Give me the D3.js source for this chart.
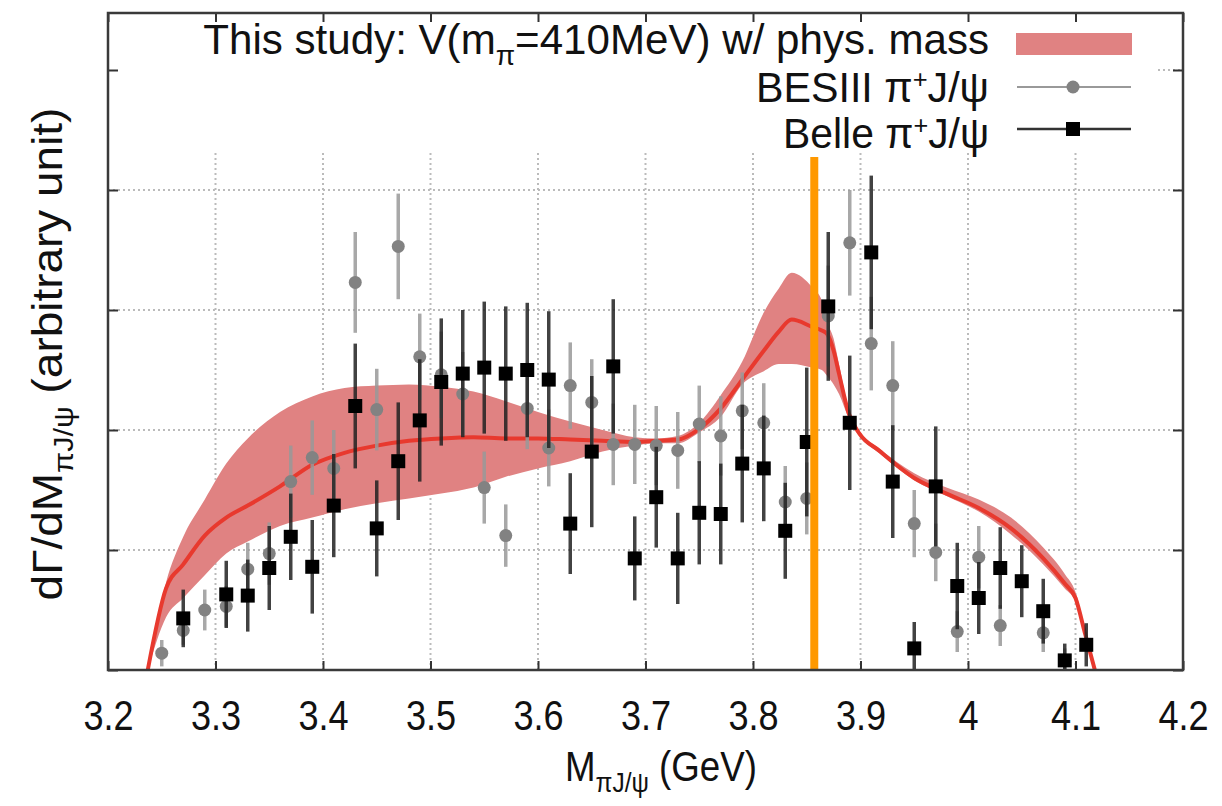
<!DOCTYPE html>
<html>
<head>
<meta charset="utf-8">
<script src="https://cdn.jsdelivr.net/npm/d3@7"></script>
<style>
body { margin: 0; background: #fff; }
text { font-family: "Liberation Sans", Arial, Helvetica, sans-serif; fill: #111; }
</style>
</head>
<body>
<svg id="chart" width="1222" height="806"></svg>
<script>
// BESIII pi+ J/psi points (arbitrary unit, one grid step = 1)
const besX   = [3.25,3.27,3.29,3.31,3.33,3.35,3.37,3.39,3.41,3.43,3.45,3.47,3.49,3.51,3.53,3.55,3.57,3.59,3.61,3.63,3.65,3.67,3.69,3.71,3.73,3.75,3.77,3.79,3.81,3.83,3.85,3.87,3.89,3.91,3.93,3.95,3.97,3.99,4.01,4.03,4.07,4.09]
const besY   = [0.14,0.33,0.50,0.53,0.84,0.97,1.57,1.77,1.68,3.23,2.17,3.53,2.61,2.46,2.30,1.52,1.12,2.18,1.85,2.37,2.23,1.88,1.88,1.87,1.83,2.05,1.95,2.16,2.06,1.40,1.43,2.95,3.56,2.72,2.37,1.22,0.98,0.32,0.94,0.37,0.31,0.08]
const besErr = [0.11,0.12,0.17,0.17,0.22,0.26,0.30,0.31,0.32,0.42,0.34,0.44,0.36,0.36,0.35,0.30,0.26,0.34,0.32,0.36,0.36,0.34,0.33,0.33,0.32,0.32,0.33,0.32,0.33,0.30,0.30,0.42,0.44,0.39,0.37,0.28,0.24,0.17,0.26,0.17,0.16,0.10]

// Belle pi+ J/psi points
const belX   = [3.27,3.31,3.33,3.35,3.37,3.39,3.41,3.43,3.45,3.47,3.49,3.51,3.53,3.55,3.57,3.59,3.61,3.63,3.65,3.67,3.69,3.71,3.73,3.75,3.77,3.79,3.81,3.83,3.85,3.87,3.89,3.91,3.93,3.95,3.97,3.99,4.01,4.03,4.05,4.07,4.09,4.11]
const belY   = [0.43,0.63,0.62,0.85,1.11,0.86,1.37,2.20,1.18,1.74,2.08,2.40,2.47,2.52,2.47,2.50,2.42,1.22,1.82,2.53,0.93,1.44,0.93,1.31,1.30,1.72,1.68,1.16,1.90,3.03,2.06,3.48,1.57,0.18,1.53,0.70,0.60,0.85,0.74,0.49,0.08,0.21]
const belErr = [0.24,0.28,0.30,0.35,0.36,0.39,0.43,0.52,0.40,0.49,0.51,0.53,0.53,0.55,0.56,0.56,0.57,0.42,0.63,0.56,0.35,0.42,0.38,0.43,0.42,0.49,0.44,0.40,0.62,0.62,0.56,0.64,0.47,0.22,0.50,0.36,0.30,0.34,0.30,0.27,0.14,0.18]

// This study: central curve and band
const modelX   = [3.237,3.254,3.27,3.29,3.31,3.33,3.36,3.39,3.42,3.45,3.48,3.51,3.54,3.57,3.60,3.63,3.66,3.69,3.71,3.73,3.75,3.77,3.79,3.81,3.824,3.836,3.855,3.864,3.869,3.875,3.88,3.889,3.899,3.917,3.95,3.98,4.01,4.04,4.07,4.09,4.10,4.109,4.118]
const modelMid = [0,0.68,0.88,1.12,1.27,1.37,1.53,1.71,1.81,1.87,1.91,1.93,1.94,1.93,1.93,1.92,1.91,1.90,1.91,1.92,2.01,2.18,2.42,2.66,2.82,2.92,2.86,2.83,2.80,2.66,2.47,2.14,1.97,1.83,1.60,1.47,1.35,1.18,0.93,0.72,0.60,0.30,0]
const modelLo  = [0,0.44,0.60,0.79,0.97,1.07,1.20,1.27,1.34,1.39,1.43,1.47,1.52,1.61,1.68,1.74,1.82,1.87,1.89,1.89,1.98,2.11,2.38,2.49,2.55,2.55,2.52,2.50,2.45,2.38,2.30,2.10,1.95,1.81,1.58,1.45,1.32,1.13,0.88,0.68,0.57,0.28,0]
const modelHi  = [0,0.73,1.11,1.42,1.72,1.93,2.15,2.28,2.35,2.37,2.38,2.36,2.32,2.24,2.15,2.07,2.00,1.94,1.93,1.95,2.06,2.29,2.57,2.98,3.18,3.31,3.19,3.08,2.90,2.76,2.55,2.17,1.99,1.85,1.64,1.52,1.42,1.27,1.02,0.80,0.65,0.33,0]

const xTicks = [3.2,3.3,3.4,3.5,3.6,3.7,3.8,3.9,4.0,4.1,4.2]
const yTicks = [0,1,2,3,4,5]
const thresholdX = 3.857, thresholdTop = 4.275

const svg = d3.select("#chart")
const m = {left: 108, right: 1183, top: 13, bottom: 670}
const x = d3.scaleLinear().domain([3.2, 4.2]).range([m.left, m.right])
const y = d3.scaleLinear().domain([0, 5.475]).range([m.bottom, m.top])

const bes = besX.map((v, i) => ({x: v, y: besY[i], e: besErr[i]}))
const bel = belX.map((v, i) => ({x: v, y: belY[i], e: belErr[i]}))
const model = modelX.map((v, i) => ({x: v, mid: modelMid[i], lo: modelLo[i], hi: modelHi[i]}))

// grid
const grid = svg.append("g").attr("stroke", "#bbb").attr("stroke-width", 2).attr("stroke-dasharray", "2,3")
grid.selectAll("line.gx").data(xTicks.slice(1, -1)).join("line")
	.attr("x1", d => x(d)).attr("x2", d => x(d))
	.attr("y1", y(0)).attr("y2", m.top)
grid.selectAll("line.gy").data(yTicks.slice(1)).join("line")
	.attr("x1", m.left).attr("x2", m.right)
	.attr("y1", d => y(d)).attr("y2", d => y(d))

// band + central line
svg.append("path").datum(model)
	.attr("fill", "#e08282")
	.attr("d", d3.area().x(d => x(d.x)).y0(d => y(d.lo)).y1(d => y(d.hi)).curve(d3.curveMonotoneX))
svg.append("path").datum(model)
	.attr("fill", "none").attr("stroke", "#e8392e").attr("stroke-width", 4)
	.attr("d", d3.line().x(d => x(d.x)).y(d => y(d.mid)).curve(d3.curveMonotoneX))

function errBars(data, color, opacity) {
	svg.append("g").selectAll("line").data(data).join("line")
		.attr("x1", d => x(d.x)).attr("x2", d => x(d.x))
		.attr("y1", d => y(Math.max(0, d.y - d.e))).attr("y2", d => y(d.y + d.e))
		.attr("stroke", color).attr("stroke-width", 3.5).attr("opacity", opacity)
}

errBars(bes, "#999", 0.85)
svg.append("g").selectAll("circle").data(bes).join("circle")
	.attr("cx", d => x(d.x)).attr("cy", d => y(d.y)).attr("r", 6.5)
	.attr("fill", "#828282")

errBars(bel, "#222", 0.85)
svg.append("g").selectAll("rect").data(bel).join("rect")
	.attr("x", d => x(d.x) - 7).attr("y", d => y(d.y) - 7)
	.attr("width", 14).attr("height", 14).attr("fill", "#000")

// threshold marker
svg.append("line")
	.attr("x1", x(thresholdX)).attr("x2", x(thresholdX))
	.attr("y1", y(0)).attr("y2", y(thresholdTop))
	.attr("stroke", "#ff9900").attr("stroke-width", 8)

// opaque key box
svg.append("rect").attr("x", m.left + 1).attr("y", m.top + 1)
	.attr("width", 1155 - m.left).attr("height", 152 - m.top - 1).attr("fill", "#fff")

// axes, ticks mirrored on all sides
function styleAxis(g) {
	g.select(".domain").remove()
	g.selectAll(".tick line").attr("stroke", "#333").attr("stroke-width", 2)
}
svg.append("g").attr("transform", `translate(0,${m.bottom})`)
	.call(d3.axisBottom(x).tickValues(xTicks).tickSizeInner(-9).tickSizeOuter(0).tickPadding(30).tickFormat(d3.format("~g")))
	.call(styleAxis)
	.call(g => g.selectAll(".tick text")
		.attr("font-size", 42).attr("fill", "#111")
		.attr("font-family", "Liberation Sans, Arial, sans-serif")
		.attr("transform", "scale(0.86,1)"))
svg.append("g").attr("transform", `translate(0,${m.top})`)
	.call(d3.axisTop(x).tickValues(xTicks).tickSizeInner(-9).tickSizeOuter(0).tickFormat(""))
	.call(styleAxis)
svg.append("g").attr("transform", `translate(${m.left},0)`)
	.call(d3.axisLeft(y).tickValues(yTicks).tickSizeInner(-10).tickSizeOuter(0).tickFormat(""))
	.call(styleAxis)
svg.append("g").attr("transform", `translate(${m.right},0)`)
	.call(d3.axisRight(y).tickValues(yTicks).tickSizeInner(-10).tickSizeOuter(0).tickFormat(""))
	.call(styleAxis)

svg.append("rect").attr("x", m.left).attr("y", m.top)
	.attr("width", m.right - m.left).attr("height", m.bottom - m.top)
	.attr("fill", "none").attr("stroke", "#3a3a3a").attr("stroke-width", 2.5)

// text helper: writes parts [text, "sub"|"sup"|null] and squeezes to the reference width
function label(tx, ty, anchor, width, parts, rotate) {
	var g = svg.append("g")
	var t = g.append("text").attr("text-anchor", anchor).attr("font-size", 42)
	var shift = 0
	parts.forEach(([s, kind]) => {
		var want = kind === "sub" ? 11 : kind === "sup" ? -14 : 0
		t.append("tspan").text(s)
			.attr("font-size", kind === "sup" ? 26 : kind ? 28 : 42)
			.attr("dy", want - shift)
		shift = want
	})
	var w = t.node().getComputedTextLength()
	g.attr("transform", `translate(${tx},${ty})` + (rotate ? ` rotate(${rotate})` : "") + ` scale(${width / w},1)`)
	return g
}

label(989, 54, "end", 786, [["This study: V(m"], ["π", "sub"], ["=410MeV) w/ phys. mass"]])
label(989, 102, "end", 233, [["BESIII π"], ["+", "sup"], ["J/ψ"]])
label(989, 148, "end", 206, [["Belle π"], ["+", "sup"], ["J/ψ"]])

label(661, 781, "middle", 192, [["M"], ["πJ/ψ", "sub"], [" (GeV)"]])
label(62, 354, "middle", 493, [["dΓ/dM"], ["πJ/ψ", "sub"], [" (arbitrary unit)"]], -90)

// key samples
svg.append("rect").attr("x", 1016).attr("y", 33).attr("width", 116).attr("height", 22).attr("fill", "#e08282")
svg.append("line").attr("x1", 1017).attr("x2", 1131).attr("y1", 87).attr("y2", 87).attr("stroke", "#999").attr("stroke-width", 2)
svg.append("circle").attr("cx", 1073).attr("cy", 87).attr("r", 6.5).attr("fill", "#828282")
svg.append("line").attr("x1", 1017).attr("x2", 1131).attr("y1", 129).attr("y2", 129).attr("stroke", "#333").attr("stroke-width", 2.5)
svg.append("rect").attr("x", 1066).attr("y", 122).attr("width", 14).attr("height", 14).attr("fill", "#000")
</script>
</body>
</html>
